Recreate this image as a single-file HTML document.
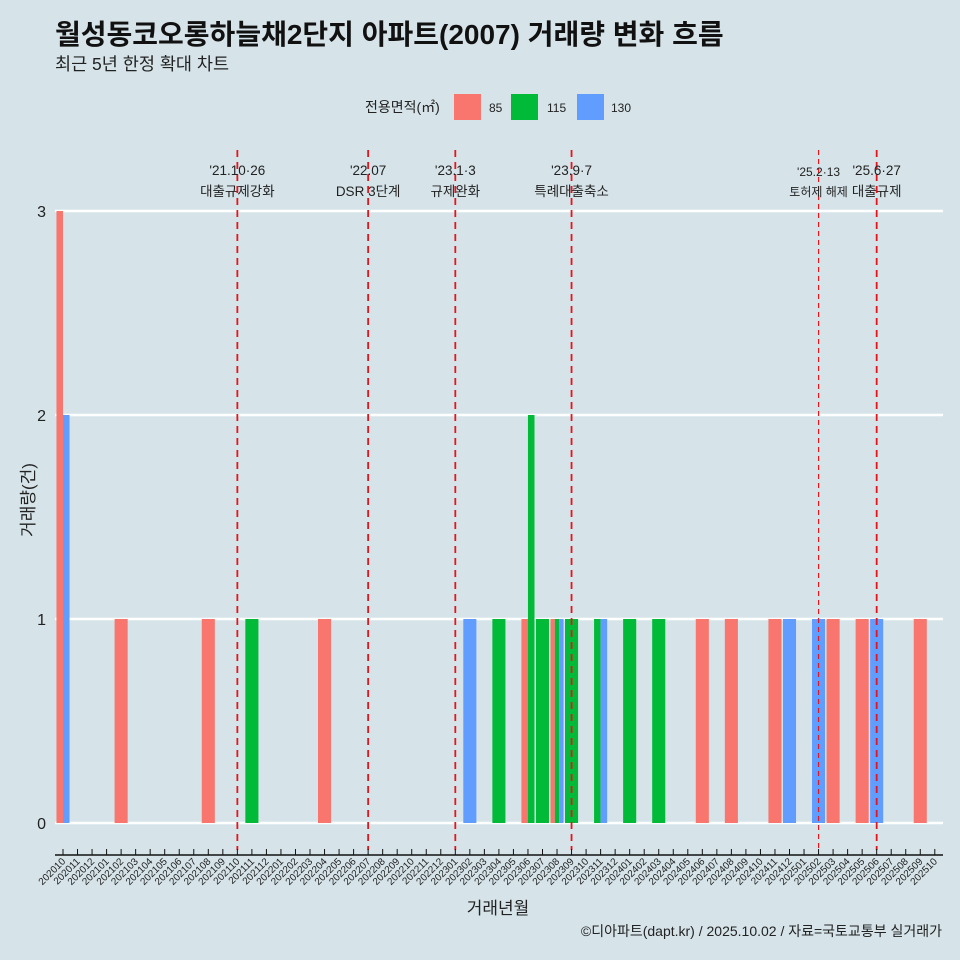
<!DOCTYPE html>
<html><head><meta charset="utf-8">
<style>
body{margin:0;background:#d6e4ea;}
svg{display:block;font-family:"Liberation Sans","Noto Sans CJK KR",sans-serif;}
</style></head>
<body>
<svg id="chart" width="960" height="960" viewBox="0 0 960 960">
<rect width="960" height="960" fill="#d6e4ea"/>
<text x="55" y="44" font-size="28" font-weight="bold" fill="#111">월성동코오롱하늘채2단지 아파트(2007) 거래량 변화 흐름</text>
<text x="55" y="70" font-size="17.5" fill="#222">최근 5년 한정 확대 차트</text>
<g>
<text x="365" y="112" font-size="14" fill="#222">전용면적(㎡)</text>
<rect x="454" y="94" width="27" height="26" fill="#f8766d"/>
<text x="489" y="112" font-size="12" fill="#222">85</text>
<rect x="511" y="94" width="27" height="26" fill="#00ba38"/>
<text x="547" y="112" font-size="12" fill="#222">115</text>
<rect x="577" y="94" width="27" height="26" fill="#619cff"/>
<text x="611" y="112" font-size="12" fill="#222">130</text>
</g>
<text transform="translate(34,500) rotate(-90)" text-anchor="middle" font-size="17" fill="#222">거래량(건)</text>
<text x="498" y="914" text-anchor="middle" font-size="17" fill="#222">거래년월</text>
<text x="942" y="936" text-anchor="end" font-size="14" fill="#222">©디아파트(dapt.kr) / 2025.10.02 / 자료=국토교통부 실거래가</text>
<g id="grid"></g><g id="bars"></g><g id="events"></g><g id="xaxis"></g>
</svg>
<script>
const yTicks = [0, 1, 2, 3];
const sizes = ["85", "115", "130"];
const colors = {"85": "#f8766d", "115": "#00ba38", "130": "#619cff"};
// month index (0 = 202010), size, count
const barMonths = [0, 0, 4, 10, 13, 18, 28, 30, 32, 32, 33, 34, 34, 34, 35, 37, 37, 39, 41, 44, 46, 49, 50, 52, 53, 55, 56, 59];
const barSizes = ["85","130","85","85","115","85","130","115","85","115","115","85","115","130","115","115","130","115","115","85","85","85","130","130","85","85","130","85"];
const barCounts = [3, 2, 1, 1, 1, 1, 1, 1, 1, 2, 1, 1, 1, 1, 1, 1, 1, 1, 1, 1, 1, 1, 1, 1, 1, 1, 1, 1];
const eventPos = [12, 21, 27, 35, 52, 56];
const eventDates = ["'21.10·26", "'22.07", "'23.1·3", "'23.9·7", "'25.2·13", "'25.6·27"];
const eventLabels = ["대출규제강화", "DSR 3단계", "규제완화", "특례대출축소", "토허제 해제", "대출규제"];

const NS = "http://www.w3.org/2000/svg";
const X0 = 63, DX = 14.53, Y0 = 823, DY = 204;
const xs = i => X0 + i * DX;
const ys = v => Y0 - v * DY;
function mk(tag, attrs, parent, txt) {
  const e = document.createElementNS(NS, tag);
  for (const k in attrs) e.setAttribute(k, attrs[k]);
  if (txt !== undefined) e.textContent = txt;
  parent.appendChild(e);
  return e;
}
const grid = document.getElementById('grid');
yTicks.forEach(t => {
  const l = mk('line', {x1: 55, x2: 943, y1: ys(t), y2: ys(t), stroke: '#fff', 'stroke-width': 2.5}, grid);
  
  
  const tx = mk('text', {x: 46, y: ys(t) + 6, 'text-anchor': 'end', 'font-size': 16, fill: '#222'}, grid, String(t));
  
  
});
const bars = document.getElementById('bars');
const groups = {};
barMonths.forEach((m, i) => { (groups[m] = groups[m] || []).push(i); });
Object.keys(groups).forEach(m => {
  const idx = groups[m];
  const full = DX * 0.9, w = full / idx.length;
  idx.forEach((i, k) => {
    const x = xs(+m) - full / 2 + k * w;
    const r = mk('rect', {x: x, y: ys(barCounts[i]), width: w, height: barCounts[i] * DY, fill: colors[barSizes[i]]}, bars);
    
    
  });
});
const ev = document.getElementById('events');
eventPos.forEach((p, i) => {
  const small = i === 4;
  const l = mk('line', {x1: xs(p), x2: xs(p), y1: 150, y2: 850, stroke: '#e8141a', 'stroke-width': small ? 1.2 : 1.8, 'stroke-dasharray': small ? '5,4' : '7,5'}, ev);
  
  
  const fs = small ? 12 : 13.5;
  const cx = xs(p);
  const a = mk('text', {x: cx, y: small ? 176 : 175, 'text-anchor': 'middle', 'font-size': fs, fill: '#222'}, ev, eventDates[i]);
  
  
  const b = mk('text', {x: cx, y: 196, 'text-anchor': 'middle', 'font-size': fs, fill: '#222'}, ev, eventLabels[i]);
  
  
});
const xa = document.getElementById('xaxis');
const al = mk('line', {x1: 55, x2: 943, y1: 855, y2: 855, stroke: '#111', 'stroke-width': 1.5}, xa);


for (let i = 0; i <= 60; i++) {
  const y = 2020 + Math.floor((9 + i) / 12), mo = (9 + i) % 12 + 1;
  const lab = y + String(mo).padStart(2, '0');
  const t = mk('line', {x1: xs(i), x2: xs(i), y1: 849, y2: 855, stroke: '#111', 'stroke-width': 1}, xa);
  
  
  const tx = mk('text', {x: xs(i) + 3, y: 862, 'text-anchor': 'end', 'font-size': 10, fill: '#222', transform: 'rotate(-45 ' + (xs(i) + 3) + ' 862)'}, xa, lab);
  
  
}
</script>
</body></html>
